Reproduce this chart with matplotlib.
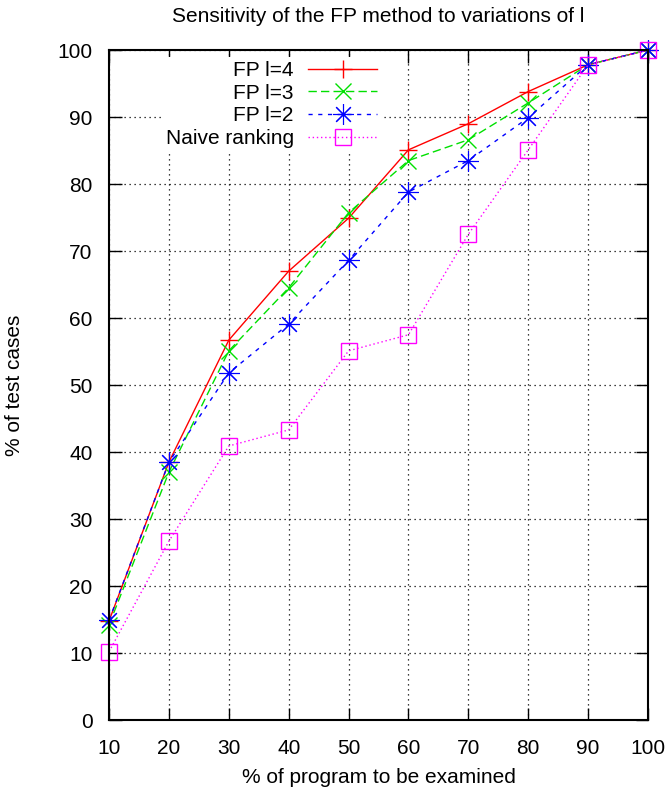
import matplotlib.pyplot as plt

plt.rcParams['font.family'] = ['Liberation Sans', 'DejaVu Sans']

# % of program examined
x = [10, 20, 30, 40, 50, 60, 70, 80, 90, 100]

# % of test cases
fp_l4 = [14.8, 38.5, 56.7, 67.0, 74.9, 85.1, 89.0, 93.8, 97.8, 100]
fp_l3 = [14.2, 37.0, 55.1, 64.5, 75.7, 83.5, 86.6, 92.1, 97.8, 100]
fp_l2 = [14.9, 38.5, 51.8, 59.1, 68.6, 78.8, 83.5, 89.9, 97.8, 100]
naive = [10.2, 26.7, 40.9, 43.3, 55.1, 57.5, 72.5, 85.1, 97.8, 100]

labels = ["FP l=4", "FP l=3", "FP l=2", "Naive ranking"]

fig = plt.figure(figsize=(6.69, 7.90), dpi=100)
ax = fig.add_axes([0.163, 0.0886, 0.8056, 0.8481])

ax.plot(x, fp_l4, color='#ff0000', linestyle='-', linewidth=1,
        marker='+', markersize=13, markeredgewidth=1, label=labels[0], clip_on=False)
ax.plot(x, fp_l3, color='#00e000', linestyle=(0, (6, 3)), linewidth=1,
        marker='x', markersize=11, markeredgewidth=1, label=labels[1], clip_on=False)
ax.plot(x, fp_l2, color='#0000ff', linestyle=(0, (3, 4)), linewidth=1,
        marker=(8, 2, 0), markersize=15, markeredgewidth=0.8, label=labels[2], clip_on=False)
ax.plot(x, naive, color='#ff00ff', linestyle=(0, (1, 2)), linewidth=1,
        marker='s', markersize=12, markerfacecolor='none',
        markeredgewidth=1, label=labels[3], clip_on=False)

ax.set_xlim(10, 100)
ax.set_ylim(0, 100)
ax.set_xticks(range(10, 101, 10))
ax.set_yticks(range(0, 101, 10))
ax.tick_params(direction='in', length=9, width=1, top=True, right=True,
               labelsize=15)
ax.tick_params(axis='x', pad=14)
ax.tick_params(axis='y', pad=12)
ax.grid(True, color='black', linestyle=(0, (1, 3)), linewidth=0.9)
for s in ax.spines.values():
    s.set_linewidth(1.5)
    s.set_zorder(4)

ax.set_title("Sensitivity of the FP method to variations of l", fontsize=15, pad=20)
ax.set_xlabel("% of program to be examined", fontsize=15, labelpad=7)
ax.set_ylabel("% of test cases", fontsize=15, labelpad=24)

leg = ax.legend(loc='upper right', bbox_to_anchor=(0.505, 0.99), markerfirst=False,
                fontsize=15, handlelength=3.3, handletextpad=0.7,
                labelspacing=0.18, borderpad=0.2, borderaxespad=0,
                frameon=True, fancybox=False, edgecolor='none', facecolor='white',
                framealpha=1)

fig.savefig("out.png", dpi=100)
